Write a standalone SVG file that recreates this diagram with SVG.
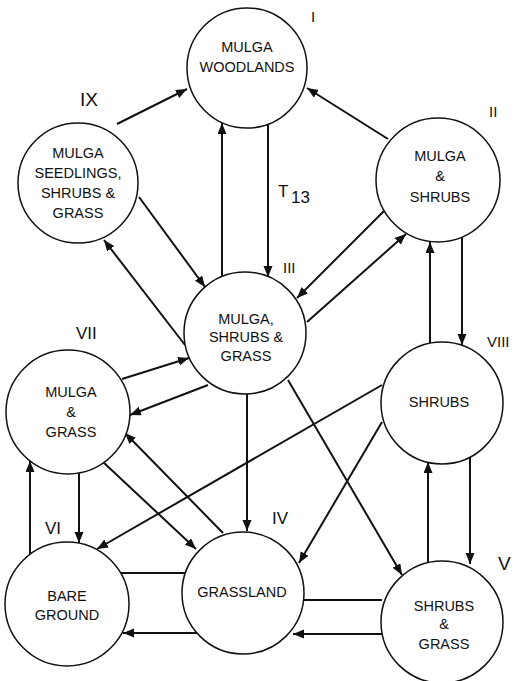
<svg xmlns="http://www.w3.org/2000/svg" width="515" height="681" viewBox="0 0 515 681">
<style>
  .node circle { fill: #fff; stroke: #111; stroke-width: 1.5; }
  .node text { font-family: "Liberation Sans", Arial, sans-serif; font-size: 14.5px; fill: #111; text-anchor: middle; }
  .lbl { font-family: "Liberation Sans", Arial, sans-serif; fill: #111; }
  #connectors line { stroke: #111; stroke-width: 2; fill: none; }
  .arr { marker-end: url(#ah); }
</style>
<defs>
  <marker id="ah" markerUnits="userSpaceOnUse" markerWidth="12" markerHeight="10" refX="11" refY="4.5" orient="auto">
    <path d="M0,0 L11,4.5 L0,9 z" fill="#111"/>
  </marker>
</defs>
<rect width="515" height="681" fill="#fff"/>

<g id="connectors">
  <line class="arr" x1="117" y1="124" x2="187" y2="89"/>
  <line class="arr" x1="388" y1="139" x2="307" y2="88"/>
  <line class="arr" x1="222" y1="277" x2="222" y2="123"/>
  <line class="arr" x1="268" y1="124" x2="268" y2="277"/>
  <line class="arr" x1="139" y1="197" x2="205" y2="287"/>
  <line class="arr" x1="185" y1="345" x2="104" y2="240"/>
  <line class="arr" x1="386" y1="209" x2="297" y2="298"/>
  <line class="arr" x1="307" y1="322" x2="406" y2="234"/>
  <line class="arr" x1="430" y1="343" x2="430" y2="242"/>
  <line class="arr" x1="462" y1="237" x2="462" y2="345"/>
  <line class="arr" x1="428" y1="562" x2="428" y2="462"/>
  <line class="arr" x1="470" y1="457" x2="470" y2="564"/>
  <line class="arr" x1="208" y1="385" x2="130" y2="415"/>
  <line class="arr" x1="122" y1="379" x2="189" y2="358"/>
  <line class="arr" x1="247" y1="394" x2="247" y2="531"/>
  <line class="arr" x1="288" y1="380" x2="402" y2="575"/>
  <line class="arr" x1="382" y1="385" x2="97" y2="549"/>
  <line class="arr" x1="382" y1="422" x2="299" y2="563"/>
  <line class="arr" x1="79" y1="473" x2="79" y2="543"/>
  <line class="arr" x1="30" y1="554" x2="30" y2="461"/>
  <line class="arr" x1="103" y1="462" x2="196" y2="549"/>
  <line class="arr" x1="223" y1="533" x2="125" y2="433"/>
  <line x1="121" y1="573" x2="185" y2="573"/>
  <line class="arr" x1="197" y1="633" x2="123" y2="633"/>
  <line x1="303" y1="600" x2="382" y2="600"/>
  <line class="arr" x1="382" y1="634" x2="293" y2="634"/>
</g>

<g id="node-I" class="node">
  <circle cx="247" cy="68" r="60"/>
  <text x="247" y="52">MULGA</text>
  <text x="247" y="72">WOODLANDS</text>
  <text class="lbl" x="311" y="22" style="font-size:15px;text-anchor:start">I</text>
</g>
<g id="node-IX" class="node">
  <circle cx="78" cy="183" r="60"/>
  <text x="78" y="158">MULGA</text>
  <text x="78" y="178">SEEDLINGS,</text>
  <text x="78" y="198">SHRUBS &amp;</text>
  <text x="78" y="218">GRASS</text>
  <text class="lbl" x="80" y="106" style="font-size:19px;text-anchor:start">IX</text>
</g>
<g id="node-II" class="node">
  <circle cx="438" cy="180" r="62"/>
  <text x="440" y="161">MULGA</text>
  <text x="440" y="181">&amp;</text>
  <text x="440" y="202">SHRUBS</text>
  <text class="lbl" x="489" y="117" style="font-size:15px;text-anchor:start">II</text>
</g>
<g id="node-III" class="node">
  <circle cx="245" cy="333" r="61"/>
  <text x="246" y="324">MULGA,</text>
  <text x="246" y="342">SHRUBS &amp;</text>
  <text x="246" y="361">GRASS</text>
  <text class="lbl" x="283" y="273" style="font-size:15px;text-anchor:start">III</text>
</g>
<g id="node-VII" class="node">
  <circle cx="68" cy="412" r="62"/>
  <text x="71" y="397">MULGA</text>
  <text x="71" y="417">&amp;</text>
  <text x="71" y="437">GRASS</text>
  <text class="lbl" x="76" y="339" style="font-size:17px;text-anchor:start">VII</text>
</g>
<g id="node-VIII" class="node">
  <circle cx="442" cy="403" r="61"/>
  <text x="439" y="407">SHRUBS</text>
  <text class="lbl" x="487" y="347" style="font-size:15px;text-anchor:start">VIII</text>
</g>
<g id="node-VI" class="node">
  <circle cx="67" cy="604" r="62"/>
  <text x="67" y="601">BARE</text>
  <text x="67" y="620">GROUND</text>
  <text class="lbl" x="45" y="534" style="font-size:17px;text-anchor:start">VI</text>
</g>
<g id="node-IV" class="node">
  <circle cx="243" cy="593" r="61"/>
  <text x="242" y="597">GRASSLAND</text>
  <text class="lbl" x="272" y="524" style="font-size:17px;text-anchor:start">IV</text>
</g>
<g id="node-V" class="node">
  <circle cx="442" cy="622" r="61"/>
  <text x="444" y="611">SHRUBS</text>
  <text x="444" y="629">&amp;</text>
  <text x="444" y="649">GRASS</text>
  <text class="lbl" x="498" y="570" style="font-size:19px;text-anchor:start">V</text>
</g>

<g id="label-T13">
  <text class="lbl" x="278" y="197" style="font-size:17px">T</text>
  <text class="lbl" x="291" y="203" style="font-size:17px">13</text>
</g>
</svg>
